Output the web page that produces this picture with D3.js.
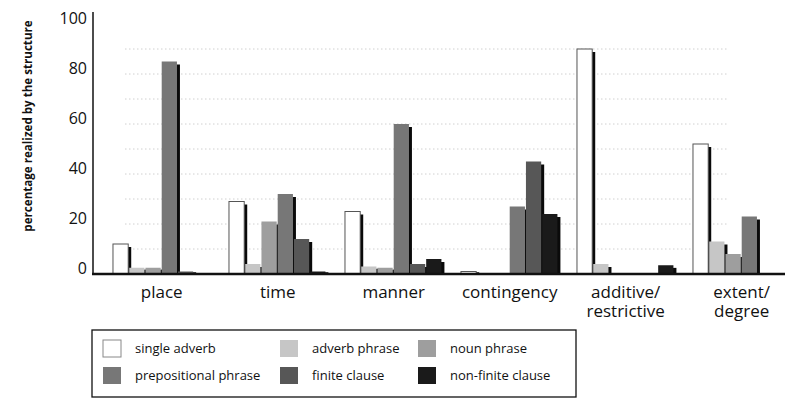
<!DOCTYPE html>
<html>
<head>
<meta charset="utf-8">
<script src="https://cdn.jsdelivr.net/npm/d3@7"></script>
<style>
  html, body { margin: 0; padding: 0; background: #fff; }
  svg { display: block; }
  text { font-family: "Open Sans", "Noto Sans", sans-serif; fill: #111; }
</style>
</head>
<body>
<svg id="chart" width="788" height="400"></svg>
<script>
// Adverbial meanings and the share realized by each structure (percent)
const categories = ["place", "time", "manner", "contingency", "additive/restrictive", "extent/degree"];
const categoryLines = [["place"], ["time"], ["manner"], ["contingency"], ["additive/", "restrictive"], ["extent/", "degree"]];

const seriesNames = ["single adverb", "adverb phrase", "noun phrase",
                     "prepositional phrase", "finite clause", "non-finite clause"];

const singleAdverb  = [12, 29, 25, 1, 90, 52];
const adverbPhrase  = [2.5, 4, 3, 0, 4, 13];
const nounPhrase    = [2.5, 21, 2.5, 0, 0, 8];
const prepPhrase    = [85, 32, 60, 27, 0, 23];
const finiteClause  = [1, 14, 4, 45, 0, 0];
const nonFinite     = [0, 1, 6, 24, 3.5, 0];

const yTicks = [0, 20, 40, 60, 80, 100];
const gridValues = [10, 20, 30, 40, 50, 60, 70, 80, 90];

const seriesValues = [singleAdverb, adverbPhrase, nounPhrase, prepPhrase, finiteClause, nonFinite];
const fills = ["#ffffff", "#c6c6c6", "#9e9e9e", "#777777", "#575757", "#1a1a1a"];

const svg = d3.select("#chart");

const y = d3.scaleLinear().domain([0, 100]).range([274, 24]);
const x = d3.scaleBand().domain(categories).range([103.7, 799.7])
  .paddingInner(0.16).paddingOuter(0.08);
const xi = d3.scaleBand().domain(seriesNames).range([0, x.bandwidth()]).padding(0);

// faint dotted guide lines
svg.append("g").selectAll("line").data(gridValues).join("line")
  .attr("x1", 125).attr("x2", 728)
  .attr("y1", d => y(d)).attr("y2", d => y(d))
  .attr("stroke", "#d0d0d0").attr("stroke-width", 1)
  .attr("stroke-dasharray", "1.5,2.5");

// bars: each bar casts a black edge on its right, overlapped by the next bar
const bars = svg.append("g");
categories.forEach((cat, ci) => {
  seriesNames.forEach((s, si) => {
    const v = seriesValues[si][ci];
    if (!(v > 0)) return;
    const bx = x(cat) + xi(s);
    const bw = xi.bandwidth();
    const by = y(v);
    const bh = y(0) - by;
    const inset = Math.min(3, bh * 0.3);
    bars.append("rect")
      .attr("x", bx + bw - 1.5).attr("y", by + inset)
      .attr("width", 3.5).attr("height", Math.max(0, bh - inset))
      .attr("fill", "#0a0a0a");
    bars.append("rect")
      .attr("x", bx).attr("y", by)
      .attr("width", bw - 1).attr("height", bh)
      .attr("fill", fills[si])
      .attr("stroke", si === 0 ? "#555" : "none")
      .attr("stroke-width", si === 0 ? 1 : 0);
  });
});

// y axis
svg.append("line")
  .attr("x1", 93).attr("x2", 93).attr("y1", y(104.8)).attr("y2", y(0) + 1)
  .attr("stroke", "#111").attr("stroke-width", 1.5);

const yAxis = svg.append("g").attr("transform", "translate(93,0)")
  .call(d3.axisLeft(y).tickValues(yTicks).tickSize(0).tickPadding(6));
yAxis.select(".domain").remove();
yAxis.selectAll("text")
  .attr("transform", "translate(0,-6)")
  .style("font-family", "'Open Sans', sans-serif")
  .style("font-size", "16px").style("fill", "#111");

// baseline
svg.append("line")
  .attr("x1", 92).attr("x2", 785).attr("y1", y(0)).attr("y2", y(0))
  .attr("stroke", "#111").attr("stroke-width", 2.6);

// category labels
const xAxis = svg.append("g").attr("transform", `translate(0,${y(0)})`)
  .call(d3.axisBottom(x).tickSize(0).tickFormat(""));
xAxis.select(".domain").remove();
xAxis.selectAll(".tick").each(function(d) {
  const lines = categoryLines[categories.indexOf(d)];
  const g = d3.select(this);
  lines.forEach((ln, i) => {
    g.append("text")
      .attr("text-anchor", "middle")
      .attr("x", 0).attr("y", 24 + i * 19)
      .style("font-size", "17px").style("fill", "#111")
      .text(ln);
  });
});

// y axis title
svg.append("text")
  .attr("transform", "translate(32,126) rotate(-90)")
  .attr("text-anchor", "middle")
  .style("font-size", "11.6px").style("font-weight", "bold")
  .text("percentage realized by the structure");

// legend
const legend = svg.append("g");
legend.append("rect")
  .attr("x", 92).attr("y", 330).attr("width", 484).attr("height", 67)
  .attr("fill", "none").attr("stroke", "#111").attr("stroke-width", 1.3);
const colX = [103, 280, 418];
const rowY = [340, 367];
seriesNames.forEach((s, i) => {
  const cx = colX[i % 3], ry = rowY[Math.floor(i / 3)];
  legend.append("rect")
    .attr("x", cx).attr("y", ry).attr("width", 18).attr("height", 17)
    .attr("fill", fills[i])
    .attr("stroke", i === 0 ? "#888" : "none");
  legend.append("text")
    .attr("x", cx + 32).attr("y", ry + 13)
    .style("font-size", "13px").style("fill", "#111")
    .text(s);
});
</script>
</body>
</html>
